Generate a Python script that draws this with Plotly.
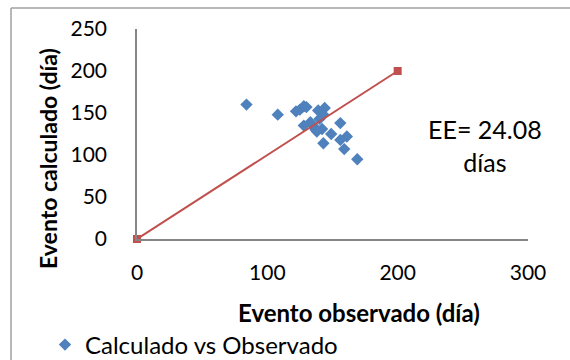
import plotly.graph_objects as go

obs = [84, 108, 122, 125, 128, 130, 139, 144, 143, 140, 128, 133, 135, 137, 142, 156, 149, 161, 156, 143, 159, 169, 138]
calc = [160, 148, 152, 154, 158, 157, 153, 156, 148, 143, 135, 139, 135, 130, 131, 138, 125, 122, 118, 114, 107, 95, 128]
line_x = [0, 200]
line_y = [0, 200]
x_ticks = [0, 100, 200, 300]
y_ticks = [0, 50, 100, 150, 200, 250]

FONT = "Lato"
fig = go.Figure()
fig.add_trace(go.Scatter(x=obs, y=calc, mode="markers", name="Calculado vs Observado",
                         marker=dict(symbol="diamond", size=9.5, color="#4f81bd"),
                         cliponaxis=False))
fig.add_trace(go.Scatter(x=line_x, y=line_y, mode="lines+markers", showlegend=False,
                         line=dict(color="#c0504d", width=2),
                         marker=dict(symbol="square", size=8, color="#c0504d"),
                         cliponaxis=False))

L, R, T, B = 137, 42, 29, 121
W, H = 570, 360
pw, ph = W - L - R, H - T - B

def px(xp):
    return (xp - L) / pw

def py(yp):
    return (H - B - yp) / ph

fig.update_layout(
    width=W, height=H,
    margin=dict(l=L, r=R, t=T, b=B, autoexpand=False),
    paper_bgcolor="white", plot_bgcolor="white",
    font=dict(family=FONT, size=21, color="black"),
    xaxis=dict(range=[0, 300], tickvals=x_ticks, showgrid=False, zeroline=False,
               showline=True, linecolor="#868686", linewidth=1.5, ticks="",
               ticklabelstandoff=14, tickfont=dict(size=21)),
    yaxis=dict(range=[0, 250], tickvals=y_ticks, showgrid=False, zeroline=False,
               showline=True, linecolor="#868686", linewidth=1.5, ticks="",
               ticklabelstandoff=24, tickfont=dict(size=21)),
    showlegend=True,
    legend=dict(x=px(45), y=py(345), xanchor="left", yanchor="middle",
                font=dict(size=24), bgcolor="rgba(0,0,0,0)"),
    annotations=[
        dict(text="EE= 24.08<br>días", x=px(485), y=py(145), xref="paper", yref="paper",
             xanchor="center", yanchor="middle",
             showarrow=False, font=dict(size=25), align="center"),
        dict(text="<b>Evento observado (día)</b>", x=px(359), y=py(312), xref="paper", yref="paper",
             xanchor="center", yanchor="middle",
             showarrow=False, font=dict(size=24)),
        dict(text="<b>Evento calculado (día)</b>", x=px(48), y=py(159), xref="paper", yref="paper",
             xanchor="center", yanchor="middle",
             showarrow=False, font=dict(size=23), textangle=-90),
    ],
    shapes=[
        dict(type="line", xref="paper", yref="paper", x0=px(11), x1=px(11), y0=py(8), y1=py(365),
             line=dict(color="#a0a0a0", width=1.5)),
        dict(type="line", xref="paper", yref="paper", x0=px(11), x1=px(575), y0=py(8), y1=py(8),
             line=dict(color="#a0a0a0", width=1.5)),
    ],
)

fig.write_html("out.html")
